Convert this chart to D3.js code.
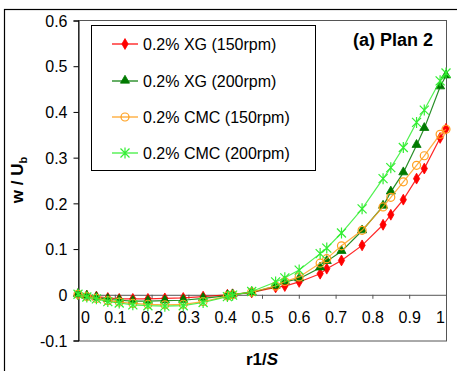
<!DOCTYPE html>
<html>
<head>
<meta charset="utf-8">
<script src="https://cdn.jsdelivr.net/npm/d3@7"></script>
<style>
  body { margin: 0; background: #fff; }
  text { font-family: "Liberation Sans", Arial, sans-serif; fill: #000; }
</style>
</head>
<body>
<div id="viz"></div>
<script>
// r1/S positions shared by all series
var rPos = [0, 0.024, 0.05, 0.081, 0.112, 0.149, 0.19, 0.236, 0.286, 0.34, 0.406, 0.42, 0.472,
            0.537, 0.562, 0.601, 0.658, 0.676, 0.716, 0.772, 0.829, 0.85, 0.884, 0.92, 0.941, 0.984, 1.0];

var xg150 = [0, -0.003, -0.005, -0.008, -0.01, -0.01, -0.01, -0.009, -0.008, -0.005, -0.001, 0.0, 0.004,
             0.015, 0.018, 0.027, 0.045, 0.056, 0.074, 0.107, 0.152, 0.174, 0.207, 0.253, 0.275, 0.342, 0.362];
var xg200 = [0, -0.004, -0.007, -0.011, -0.013, -0.015, -0.015, -0.014, -0.013, -0.009, -0.003, -0.001, 0.004,
             0.018, 0.027, 0.034, 0.058, 0.072, 0.094, 0.139, 0.193, 0.224, 0.266, 0.326, 0.363, 0.454, 0.478];
var cmc150 = [0, -0.005, -0.009, -0.014, -0.017, -0.02, -0.022, -0.023, -0.022, -0.016, -0.004, -0.001, 0.005,
              0.018, 0.028, 0.038, 0.068, 0.078, 0.106, 0.14, 0.191, 0.212, 0.246, 0.282, 0.303, 0.35, 0.361];
var cmc200 = [0, -0.006, -0.01, -0.016, -0.019, -0.023, -0.025, -0.026, -0.025, -0.018, -0.005, -0.002, 0.006,
              0.027, 0.036, 0.053, 0.089, 0.101, 0.134, 0.187, 0.253, 0.277, 0.321, 0.376, 0.403, 0.467, 0.484];

var seriesNames = ["0.2% XG (150rpm)", "0.2% XG (200rpm)", "0.2% CMC (150rpm)", "0.2% CMC (200rpm)"];
var seriesVals = [xg150, xg200, cmc150, cmc200];
var seriesColors = ["#ff0000", "#007a00", "#ffa01e", "#33ee33"];
var seriesMarks = ["diamond", "triangle", "circle", "star"];

var xTicks = [0, 0.1, 0.2, 0.3, 0.4, 0.5, 0.6, 0.7, 0.8, 0.9, 1];
var yTicks = [-0.1, 0, 0.1, 0.2, 0.3, 0.4, 0.5, 0.6];

var W = 457, H = 371;
var plot = {left: 78, top: 20, right: 446, bottom: 340};

var svg = d3.select("#viz").append("svg")
    .attr("width", W)
    .attr("height", H);

// outer frame (only left and top visible)
svg.append("rect")
    .attr("x", 4.5).attr("y", 9.5)
    .attr("width", W + 10).attr("height", H + 10)
    .style("fill", "none").style("stroke", "#000").style("stroke-width", 1.2);

var x = d3.scaleLinear().domain([0, 1]).range([plot.left, plot.right]);
var y = d3.scaleLinear().domain([-0.1, 0.6]).range([plot.bottom, plot.top]);

// plain hyphen minus like the original
function fmt(d){ return String(Math.round(d * 10) / 10); }

// plot area border
svg.append("rect")
    .attr("x", plot.left + 0.5).attr("y", plot.top + 0.5)
    .attr("width", plot.right - plot.left).attr("height", plot.bottom - plot.top + 0.5)
    .style("fill", "none").style("stroke", "#555").style("stroke-width", 1);

// y axis
var yAxis = svg.append("g")
    .attr("transform", "translate(" + (plot.left + 0.5) + ",0.5)")
    .call(d3.axisLeft(y).tickValues(yTicks).tickSize(5).tickPadding(6).tickFormat(fmt));
yAxis.select(".domain").attr("stroke", "#000");
yAxis.selectAll(".tick line").attr("stroke", "#000");
yAxis.selectAll(".tick text").style("font-size", "16px").attr("dy", "0.36em");

// x axis on zero line
var xAxis = svg.append("g")
    .attr("transform", "translate(0," + (y(0) + 0.5) + ")")
    .call(d3.axisBottom(x).tickValues(xTicks).tickSize(4).tickPadding(0).tickFormat(fmt));
xAxis.select(".domain").attr("stroke", "#555");
xAxis.selectAll(".tick line").attr("stroke", "#555");
xAxis.selectAll(".tick text")
    .style("font-size", "16px")
    .attr("y", 28).attr("dy", "0")
    .attr("dx", function(d){ return d === 0 ? 7 : (d === 1 ? -6 : 0); });

// series lines and markers
var line = d3.line()
    .x(function(d){ return x(d[0]); })
    .y(function(d){ return y(d[1]); });

function drawMarker(g, type, color, cx, cy) {
    if (type === "diamond") {
        g.append("path")
            .attr("d", d3.symbol().type(d3.symbolDiamond).size(34)())
            .attr("transform", "translate(" + cx + "," + cy + ")")
            .style("fill", color).style("stroke", color).style("stroke-width", 0.8);
    } else if (type === "triangle") {
        g.append("path")
            .attr("d", d3.symbol().type(d3.symbolTriangle).size(36)())
            .attr("transform", "translate(" + cx + "," + (cy - 0.5) + ")")
            .style("fill", color).style("stroke", color).style("stroke-width", 0.8);
    } else if (type === "circle") {
        g.append("circle")
            .attr("cx", cx).attr("cy", cy).attr("r", 4)
            .style("fill", "none").style("stroke", color).style("stroke-width", 1.2);
    } else {
        var r = 4.5;
        g.append("path")
            .attr("d", "M" + (cx - r) + "," + (cy - r) + "L" + (cx + r) + "," + (cy + r) +
                       "M" + (cx - r) + "," + (cy + r) + "L" + (cx + r) + "," + (cy - r) +
                       "M" + cx + "," + (cy - r - 1) + "L" + cx + "," + (cy + r + 1))
            .style("fill", "none").style("stroke", color).style("stroke-width", 1.2);
    }
}

for (var s = 0; s < seriesVals.length; s++) {
    var pts = rPos.map(function(r, i){ return [r, seriesVals[s][i]]; });
    var g = svg.append("g");
    g.append("path")
        .datum(pts)
        .attr("d", line)
        .style("fill", "none")
        .style("stroke", seriesColors[s])
        .style("stroke-width", 1.2)
        .style("opacity", 0.85);
    for (var i = 0; i < pts.length; i++) {
        drawMarker(g, seriesMarks[s], seriesColors[s], x(pts[i][0]), y(pts[i][1]));
    }
}

// legend
var leg = svg.append("g");
leg.append("rect")
    .attr("x", 91.5).attr("y", 25.5).attr("width", 224).attr("height", 145)
    .style("fill", "#fff").style("stroke", "#000").style("stroke-width", 1);
var legY = [44, 81, 117, 153];
for (var k = 0; k < seriesNames.length; k++) {
    leg.append("line")
        .attr("x1", 112).attr("x2", 138)
        .attr("y1", legY[k]).attr("y2", legY[k])
        .style("stroke", seriesColors[k]).style("stroke-width", 1.2);
    drawMarker(leg, seriesMarks[k], seriesColors[k], 125, legY[k]);
    leg.append("text")
        .attr("x", 143).attr("y", legY[k] + 6)
        .style("font-size", "16px")
        .text(seriesNames[k]);
}

// panel title
svg.append("text")
    .attr("x", 433).attr("y", 46)
    .attr("text-anchor", "end")
    .style("font-size", "18px").style("font-weight", "bold")
    .text("(a) Plan 2");

// axis titles
var yt = svg.append("text")
    .attr("transform", "translate(23,180) rotate(-90)")
    .attr("text-anchor", "middle")
    .style("font-size", "17px").style("font-weight", "bold");
yt.append("tspan").text("w / U");
yt.append("tspan").attr("dy", 4).style("font-size", "11px").text("b");

var xt = svg.append("text")
    .attr("x", 262).attr("y", 365)
    .attr("text-anchor", "middle")
    .style("font-size", "17px").style("font-weight", "bold");
xt.append("tspan").text("r1/");
xt.append("tspan").style("font-style", "italic").text("S");
</script>
</body>
</html>
